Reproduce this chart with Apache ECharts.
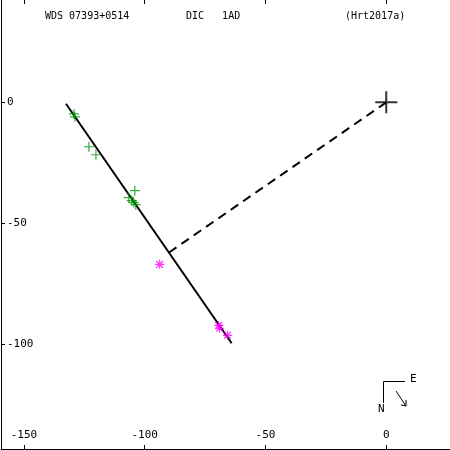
<!DOCTYPE html>
<html><head><meta charset="utf-8">
<script src="https://cdn.jsdelivr.net/npm/echarts@6/dist/echarts.min.js"></script>
<style>html,body{margin:0;padding:0;background:#fff}#c{width:450px;height:450px}</style>
</head><body><div id="c"></div>
<script>
// Data (x = east offset, y = north offset)
const xTicks = [-150, -100, -50, 0];
const yTicks = [-100, -50, 0];
const greenObs = [[-129.3,-4.8],[-128.9,-6.0],[-123.1,-18.4],[-120.2,-21.7],[-104.1,-36.6],[-106.6,-39.5],[-105.4,-40.7],[-104.5,-41.5],[-103.7,-42.4]];
const magentaObs = [[-93.8,-67.1],[-69.4,-92.4],[-69.0,-93.6],[-65.7,-96.5]];
const orbitLine = [[-132.6,-0.6],[-64.0,-99.8]];
const primary = [[0,0]];
const titleLeft = 'WDS 07393+0514';
const titleMid = 'DIC   1AD';
const titleRight = '(Hrt2017a)';

// foot of perpendicular from primary onto the linear path
const p1 = orbitLine[0], p2 = orbitLine[1];
const dx = p2[0]-p1[0], dy = p2[1]-p1[1];
const t = -(p1[0]*dx + p1[1]*dy)/(dx*dx+dy*dy);
const foot = [p1[0]+t*dx, p1[1]+t*dy];

const font = 'DejaVu Sans Mono';
const chart = echarts.init(document.getElementById('c'));
chart.setOption({
  animation:false,
  backgroundColor:'#fff',
  grid:{left:1,right:0,top:0,bottom:1},
  xAxis:[{
    type:'value', min:-159.5, max:26.4, position:'bottom',
    splitLine:{show:false},
    axisLine:{show:true, onZero:false, lineStyle:{color:'#000',width:1}},
    axisTick:{show:true, inside:true, length:4, customValues:xTicks, lineStyle:{color:'#000'}},
    axisLabel:{show:true, inside:true, margin:8, customValues:xTicks, color:'#000', fontFamily:font, fontSize:11}
  },{
    type:'value', min:-159.5, max:26.4, position:'top',
    splitLine:{show:false},
    axisLine:{show:false, onZero:false},
    axisTick:{show:true, inside:true, length:4, customValues:xTicks, lineStyle:{color:'#000'}},
    axisLabel:{show:false}
  }],
  yAxis:[{
    type:'value', min:-143.6, max:42.4, position:'left',
    splitLine:{show:false},
    axisLine:{show:true, onZero:false, lineStyle:{color:'#000',width:1}},
    axisTick:{show:true, inside:true, length:4, customValues:yTicks, lineStyle:{color:'#000'}},
    axisLabel:{show:true, inside:true, margin:6, customValues:yTicks, color:'#000', fontFamily:font, fontSize:11}
  }],
  graphic:[
    {type:'text', left:45, top:11, style:{text:titleLeft, font:'10px '+font, fill:'#000'}},
    {type:'text', left:186, top:11, style:{text:titleMid, font:'10px '+font, fill:'#000'}},
    {type:'text', left:345, top:11, style:{text:titleRight, font:'10px '+font, fill:'#000'}},
    {type:'polyline', shape:{points:[[383.5,403],[383.5,381.5],[405,381.5]]}, style:{stroke:'#000', lineWidth:1, fill:null}},
    {type:'text', left:410, top:374, style:{text:'E', font:'11px '+font, fill:'#000'}},
    {type:'text', left:378, top:404, style:{text:'N', font:'11px '+font, fill:'#000'}},
    {type:'polyline', shape:{points:[[396,391],[406,406]]}, style:{stroke:'#000', lineWidth:1}},
    {type:'polyline', shape:{points:[[406,400],[406,406],[401,405]]}, style:{stroke:'#000', lineWidth:1, fill:null}}
  ],
  series:[
    {type:'line', data:orbitLine, symbol:'none', lineStyle:{color:'#000', width:2}, z:2},
    {type:'line', data:[primary[0], foot], symbol:'none', lineStyle:{color:'#000', width:2, type:[9,6]}, z:2},
    {type:'scatter', data:greenObs, symbol:'path://M0,5L10,5M5,0L5,10', symbolSize:10,
      itemStyle:{color:'rgba(0,0,0,0)', borderColor:'#009900', borderWidth:1.2}, z:3},
    {type:'scatter', data:magentaObs, symbol:'path://M0,4L8,4M4,0L4,8M1,1L7,7M7,1L1,7', symbolSize:9,
      itemStyle:{color:'rgba(0,0,0,0)', borderColor:'#ff00ff', borderWidth:1.2}, z:3},
    {type:'scatter', data:primary, symbol:'path://M0,10L20,10M10,0L10,20', symbolSize:22,
      itemStyle:{color:'rgba(0,0,0,0)', borderColor:'#000', borderWidth:2}, z:4}
  ]
});
</script></body></html>
